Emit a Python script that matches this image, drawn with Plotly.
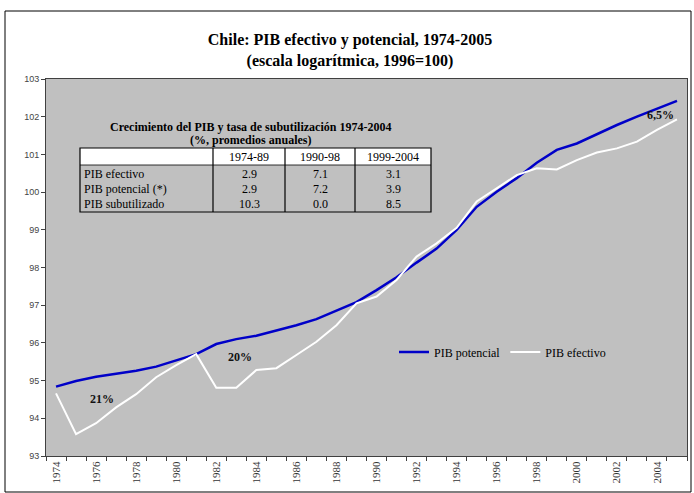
import plotly.graph_objects as go

# ---------------- data ----------------
years = list(range(1974, 2006))
pib_potencial = [94.84, 94.99, 95.10, 95.17, 95.26, 95.37, 95.53, 95.70, 95.97, 96.10,
                 96.19, 96.32, 96.47, 96.63, 96.85, 97.08, 97.40, 97.74, 98.13, 98.50,
                 99.00, 99.61, 100.01, 100.37, 100.78, 101.12, 101.29, 101.54, 101.78, 102.00,
                 102.22, 102.42]
pib_efectivo = [94.66, 93.58, 93.87, 94.29, 94.64, 95.09, 95.41, 95.70, 94.81, 94.81,
                95.28, 95.33, 95.68, 96.03, 96.47, 97.05, 97.23, 97.67, 98.29, 98.64,
                99.05, 99.75, 100.10, 100.45, 100.63, 100.60, 100.85, 101.05, 101.16, 101.34,
                101.65, 101.93]
x_tick_years = list(range(1974, 2005, 2))
y_ticks = list(range(93, 104))

table_title = "Crecimiento del PIB y tasa de subutilización 1974-2004"
table_subtitle = "(%, promedios anuales)"
table_cols = ["1974-89", "1990-98", "1999-2004"]
table_rows = ["PIB efectivo", "PIB potencial (*)", "PIB subutilizado"]
table_values = [["2.9", "7.1", "3.1"],
                ["2.9", "7.2", "3.9"],
                ["10.3", "0.0", "8.5"]]

annot_labels = ["21%", "20%", "6,5%"]
annot_x = [1976.3, 1983.2, 2004.2]
annot_y = [94.5, 95.62, 102.05]

# ---------------- layout helpers ----------------
W, H = 694, 493
L, R, T, B = 46, 7, 79, 37
PW, PH = W - L - R, H - T - B


def px(x):
    return (x - L) / PW


def py(y):
    return (H - B - y) / PH


SERIF = "Liberation Serif, Times New Roman, serif"
SANS = "Liberation Sans, Arial, sans-serif"

fig = go.Figure()
fig.add_trace(go.Scatter(x=years, y=pib_potencial, mode="lines", name="PIB potencial",
                         line=dict(color="#0000C8", width=2.5)))
fig.add_trace(go.Scatter(x=years, y=pib_efectivo, mode="lines", name="PIB efectivo",
                         line=dict(color="#FFFFFF", width=2)))

shapes = []
annotations = []

# outer frame
shapes.append(dict(type="rect", xref="paper", yref="paper", x0=px(5), x1=px(691),
                   y0=py(492), y1=py(11), line=dict(color="black", width=1),
                   fillcolor="rgba(0,0,0,0)", layer="below"))

# table geometry (pixels)
tx0, tx1 = 80, 431
col_b = [213, 285, 355]
ty0, thead, ty1 = 148, 165, 212
row_y = [174, 189, 204]
col_c = [(col_b[0] + col_b[1]) / 2, (col_b[1] + col_b[2]) / 2, (col_b[2] + tx1) / 2]

shapes.append(dict(type="rect", xref="paper", yref="paper", x0=px(tx0), x1=px(tx1),
                   y0=py(thead), y1=py(ty0), fillcolor="white", line=dict(width=0)))
shapes.append(dict(type="rect", xref="paper", yref="paper", x0=px(tx0), x1=px(tx1),
                   y0=py(ty1), y1=py(ty0), line=dict(color="black", width=1.2)))
shapes.append(dict(type="line", xref="paper", yref="paper", x0=px(tx0), x1=px(tx1),
                   y0=py(thead), y1=py(thead), line=dict(color="black", width=0.8)))
for cb in col_b:
    shapes.append(dict(type="line", xref="paper", yref="paper", x0=px(cb), x1=px(cb),
                       y0=py(ty1), y1=py(ty0), line=dict(color="black", width=1.2)))

annotations.append(dict(text="<b>" + table_title + "</b>", xref="paper", yref="paper",
                        x=px(250), y=py(127), xanchor="center", yanchor="middle", showarrow=False,
                        font=dict(family=SERIF, size=12, color="black")))
annotations.append(dict(text="<b>" + table_subtitle + "</b>", xref="paper", yref="paper",
                        x=px(250), y=py(140), xanchor="center", yanchor="middle", showarrow=False,
                        font=dict(family=SERIF, size=12, color="black")))
for j, c in enumerate(table_cols):
    annotations.append(dict(text=c, xref="paper", yref="paper", x=px(col_c[j]), y=py(157),
                            xanchor="center", yanchor="middle",
                            showarrow=False, font=dict(family=SERIF, size=12, color="black")))
for i, rname in enumerate(table_rows):
    annotations.append(dict(text=rname, xref="paper", yref="paper", x=px(tx0 + 2), y=py(row_y[i]),
                            xanchor="left", yanchor="middle", showarrow=False,
                            font=dict(family=SERIF, size=12, color="black")))
    for j, v in enumerate(table_values[i]):
        annotations.append(dict(text=v, xref="paper", yref="paper", x=px(col_c[j]), y=py(row_y[i]),
                                xanchor="center", yanchor="middle",
                                showarrow=False, font=dict(family=SERIF, size=12, color="black")))

for lab, ax_, ay_ in zip(annot_labels, annot_x, annot_y):
    annotations.append(dict(text="<b>" + lab + "</b>", x=ax_, y=ay_, xref="x", yref="y",
                            xanchor="center", yanchor="middle",
                            showarrow=False, font=dict(family=SERIF, size=12, color="#111")))

fig.update_layout(
    width=W, height=H,
    margin=dict(l=L, r=R, t=T, b=B, pad=0),
    paper_bgcolor="white",
    plot_bgcolor="#C0C0C0",
    title=dict(text="<b>Chile: PIB efectivo y potencial, 1974-2005<br>(escala logarítmica, 1996=100)</b>",
               x=350 / W, xanchor="center", y=1 - 45 / H, yanchor="middle",
               font=dict(family=SERIF, size=16, color="black")),
    showlegend=True,
    legend=dict(orientation="h", x=px(394), y=py(352), xanchor="left", yanchor="middle",
                bgcolor="rgba(0,0,0,0)", font=dict(family=SERIF, size=12, color="black"),
                itemwidth=30),
    shapes=shapes,
    annotations=annotations,
)

fig.update_xaxes(range=[1973.5, 2005.5], tickmode="array", tickvals=x_tick_years,
                 ticktext=[str(y) for y in x_tick_years], tickangle=-90,
                 ticks="", showgrid=False, zeroline=False,
                 showline=True, linecolor="#404040", linewidth=1, mirror=True,
                 tickfont=dict(family=SERIF, size=11, color="#333"),
                 minor=dict(ticks="outside", tick0=1973.5, dtick=1, ticklen=4,
                            tickcolor="#404040", showgrid=False))
fig.update_yaxes(range=[93, 103], tickmode="array", tickvals=y_ticks,
                 ticks="outside", ticklen=4, tickcolor="#404040",
                 showgrid=False, zeroline=False,
                 showline=True, linecolor="#404040", linewidth=1, mirror=True,
                 tickfont=dict(family=SANS, size=9, color="#444"))

fig.write_html("out.html", config={"displayModeBar": False},
               post_script="document.body.style.margin='0';document.body.style.overflow='hidden';")
